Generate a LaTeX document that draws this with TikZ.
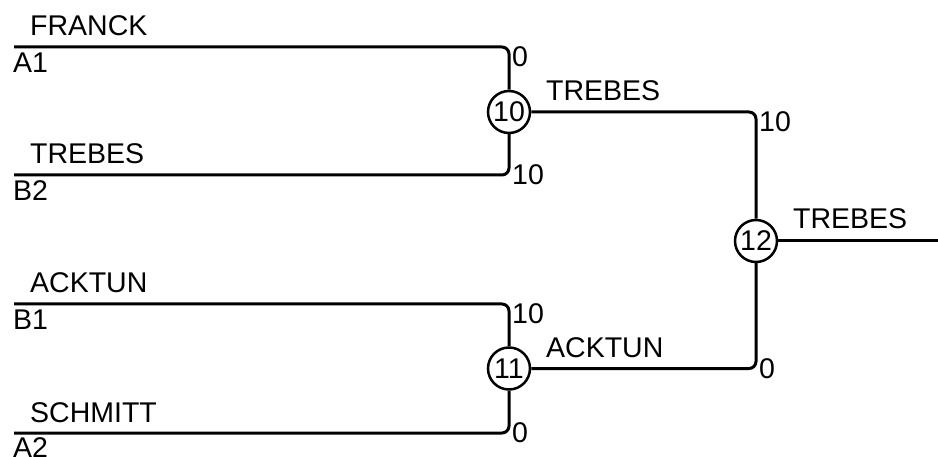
\documentclass[tikz,border=0pt]{standalone}
\usepackage{fontspec}
\setmainfont{Liberation Sans}
\begin{document}
\begin{tikzpicture}[x=1pt,y=-1pt,
  wire/.style={line width=3pt,rounded corners=7pt},
  score/.style={circle,draw,line width=2.5pt,minimum size=42pt,inner sep=0pt,font=\fontsize{28.5}{30}\selectfont},
  lbl/.style={inner sep=0pt,font=\fontsize{28.5}{30}\selectfont,anchor=base west},
  pts/.style={inner sep=0pt,font=\fontsize{28.5}{30}\selectfont}]
\useasboundingbox (0,0) rectangle (938,457);
% games
\node[score] (c10) at (509,112) {10};
\node[score] (c11) at (509,368.5) {11};
\node[score] (c12) at (756,241) {12};
% line ends
\coordinate (a1) at (14,47);
\coordinate (b2) at (14,175);
\coordinate (b1) at (14,304);
\coordinate (a2) at (14,433);
\coordinate (out) at (938,241);
% wires
\draw[wire] (a1) -| (c10);
\draw[wire] (b2) -| (c10);
\draw[wire] (b1) -| (c11);
\draw[wire] (a2) -| (c11);
\draw[wire] (c10) -| (c12);
\draw[wire] (c11) -| (c12);
\draw[wire] (c12) -- (out);
% player names
\node[lbl] (nfranck) at (30,36) {FRANCK};
\node[lbl] (na1) at (13,73) {A1};
\node[lbl] (ntrebes) at (30,164) {TREBES};
\node[lbl] (nb2) at (13,201) {B2};
\node[lbl] (nacktun) at (30,293) {ACKTUN};
\node[lbl] (nb1) at (13,330) {B1};
\node[lbl] (nschmitt) at (30,422) {SCHMITT};
\node[lbl] (na2) at (13,457) {A2};
% winners
\node[lbl] (w10) at (546,101) {TREBES};
\node[lbl] (w11) at (546,357) {ACKTUN};
\node[lbl] (w12) at (793,229) {TREBES};
% points
\node[pts,anchor=north west] (p1) at (512,46) {0};
\node[pts,anchor=west] (p2) at (512,175) {10};
\node[pts,anchor=north west] (p3) at (512,303) {10};
\node[pts,anchor=west] (p4) at (512,433) {0};
\node[pts,anchor=north west] (p5) at (759,111) {10};
\node[pts,anchor=west] (p6) at (759,369) {0};
\end{tikzpicture}
\end{document}
